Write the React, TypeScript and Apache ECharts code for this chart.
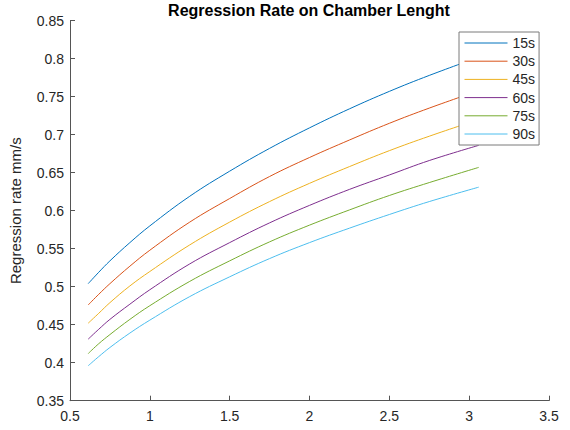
import React, { useEffect, useRef } from "react";
import * as echarts from "echarts";

const lengths = [0.614, 0.68, 0.75, 0.875, 1.0, 1.25, 1.5, 1.75, 2.0, 2.25, 2.5, 2.75, 3.06];
const seriesNames = ["15s", "30s", "45s", "60s", "75s", "90s"];
const rate15 = [0.504, 0.519, 0.534, 0.558, 0.58, 0.619, 0.652, 0.682, 0.709, 0.734, 0.757, 0.778, 0.802];
const rate30 = [0.476, 0.49, 0.504, 0.527, 0.548, 0.585, 0.616, 0.645, 0.67, 0.693, 0.715, 0.735, 0.758];
const rate45 = [0.452, 0.465, 0.479, 0.501, 0.52, 0.555, 0.585, 0.612, 0.636, 0.658, 0.679, 0.698, 0.72];
const rate60 = [0.431, 0.444, 0.457, 0.477, 0.496, 0.53, 0.558, 0.584, 0.607, 0.628, 0.647, 0.666, 0.686];
const rate75 = [0.412, 0.425, 0.437, 0.457, 0.475, 0.507, 0.534, 0.559, 0.581, 0.601, 0.62, 0.637, 0.657];
const rate90 = [0.396, 0.408, 0.42, 0.439, 0.456, 0.487, 0.513, 0.537, 0.558, 0.577, 0.595, 0.612, 0.631];
const allRates = [rate15, rate30, rate45, rate60, rate75, rate90];
const colors = ["#0072BD", "#D95319", "#EDB120", "#7E2F8E", "#77AC30", "#4DBEEE"];

const FONT = "'Liberation Sans', Arial, Helvetica, sans-serif";
const AXIS_COLOR = "#262626";

const fmt = (v: number) => String(Number(v.toFixed(2)));

export default function App() {
  const ref = useRef<HTMLDivElement>(null);
  useEffect(() => {
    if (!ref.current) return;
    const chart = echarts.init(ref.current, undefined, { renderer: "svg" });
    chart.setOption({
      animation: false,
      backgroundColor: "#ffffff",
      textStyle: { fontFamily: FONT },
      graphic: [
        {
          type: "text",
          x: 309,
          y: 2,
          style: {
            text: "Regression Rate on Chamber Lenght",
            fontFamily: FONT,
            fontSize: 16,
            fontWeight: "bold",
            fill: "#000000",
            textAlign: "center",
            textVerticalAlign: "top",
          },
        },
      ],
      grid: { left: 69, right: 21, top: 20.7, bottom: 29.3, containLabel: false },
      legend: {
        orient: "vertical",
        left: 459,
        top: 32,
        padding: [4, 4, 4, 5],
        itemWidth: 43,
        itemHeight: 14,
        itemGap: 4.2,
        backgroundColor: "#ffffff",
        borderColor: "#7a7a7a",
        borderWidth: 1,
        borderRadius: 0,
        itemStyle: { opacity: 0 },
        lineStyle: { width: 1 },
        textStyle: { fontFamily: FONT, fontSize: 14, color: AXIS_COLOR, lineHeight: 14 },
        data: seriesNames,
      },
      xAxis: {
        type: "value",
        min: 0.5,
        max: 3.5,
        interval: 0.5,
        axisLine: { show: true, lineStyle: { color: "#555555", width: 1 } },
        axisTick: { show: true, inside: true, length: 5, lineStyle: { color: "#555555" } },
        axisLabel: { fontFamily: FONT, fontSize: 14, color: AXIS_COLOR, margin: 8, formatter: fmt },
        splitLine: { show: false },
      },
      yAxis: {
        type: "value",
        min: 0.35,
        max: 0.85,
        interval: 0.05,
        name: "Regression rate mm/s",
        nameLocation: "middle",
        nameGap: 47,
        nameTextStyle: { fontFamily: FONT, fontSize: 15, color: AXIS_COLOR },
        axisLine: { show: true, lineStyle: { color: "#555555", width: 1 } },
        axisTick: { show: true, inside: true, length: 5, lineStyle: { color: "#555555" } },
        axisLabel: { fontFamily: FONT, fontSize: 14, color: AXIS_COLOR, margin: 6, formatter: fmt },
        splitLine: { show: false },
      },
      series: seriesNames.map((name, i) => ({
        name,
        type: "line",
        symbol: "none",
        smooth: 0.4,
        color: colors[i],
        lineStyle: { width: 1, color: colors[i] },
        data: lengths.map((x, j) => [x, allRates[i][j]]),
        z: 1,
      })),
    });
    return () => chart.dispose();
  }, []);
  return (
    <div
      ref={ref}
      style={{ position: "absolute", left: 0, top: 0, width: 570, height: 430 }}
    />
  );
}
